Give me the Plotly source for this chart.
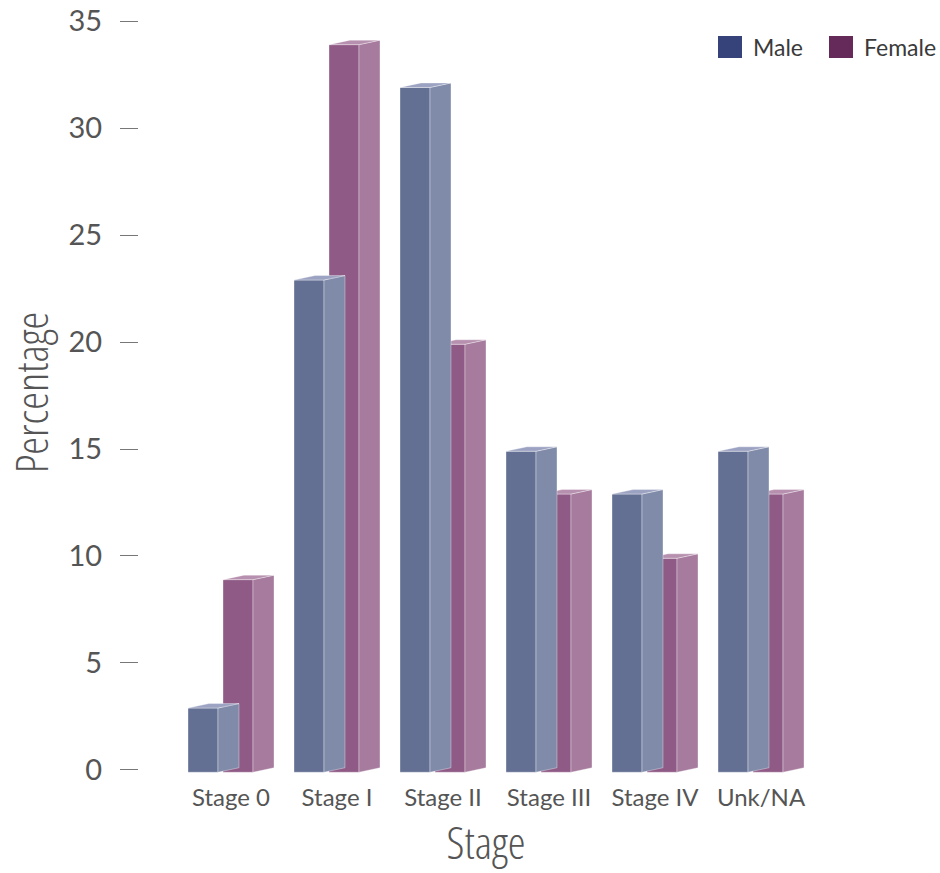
import plotly.graph_objects as go

categories = ["Stage 0", "Stage I", "Stage II", "Stage III", "Stage IV", "Unk/NA"]
male = [3, 23, 32, 15, 13, 15]
female = [9, 34, 20, 13, 10, 13]
y_ticks = [0, 5, 10, 15, 20, 25, 30, 35]

# 3D styling (in axis units)
FRONT_W = 0.283
DX = 0.198
DY = 0.21
series = [
    dict(name="Female", vals=female, off=-0.0755,
         front="#8F5A86", side="#A67B9D", top="#B690AE", legend="#652A5A"),
    dict(name="Male", vals=male, off=-0.4057,
         front="#637093", side="#808BAA", top="#9CA2C2", legend="#36427A"),
]

fig = go.Figure()
edge = dict(color="rgba(255,255,255,0.35)", width=1)

for s in series:
    fx, fy, sx, sy, tx, ty = [], [], [], [], [], []
    for i, v in enumerate(s["vals"]):
        x0 = i + s["off"]
        x1 = x0 + FRONT_W
        b0, b1 = -DY / 2, DY / 2
        t0, t1 = v - DY / 2, v + DY / 2
        fx += [x0, x1, x1, x0, x0, None]
        fy += [b0, b0, t0, t0, b0, None]
        sx += [x1, x1 + DX, x1 + DX, x1, x1, None]
        sy += [b0, b1, t1, t0, b0, None]
        tx += [x0, x1, x1 + DX, x0 + DX, x0, None]
        ty += [t0, t0, t1, t1, t0, None]
    for xs, ys, col in [(fx, fy, s["front"]), (sx, sy, s["side"]), (tx, ty, s["top"])]:
        fig.add_trace(go.Scatter(x=xs, y=ys, mode="lines", fill="toself",
                                 fillcolor=col, line=edge, showlegend=False,
                                 hoverinfo="skip"))

# Manual legend (plot domain: x 139..833 px, y 10..775 px)
def px_x(p):
    return (p - 139) / 694.0

def px_y(p):
    return (775 - p) / 765.0

legend_items = [("Male", "#36427A", 718), ("Female", "#652A5A", 829)]
for name, col, left in legend_items:
    fig.add_shape(type="rect", xref="paper", yref="paper",
                  x0=px_x(left), x1=px_x(left + 24), y0=px_y(58), y1=px_y(36),
                  fillcolor=col, line=dict(width=0))
    fig.add_annotation(text=name, xref="paper", yref="paper",
                       x=px_x(left + 33), y=px_y(47), xanchor="left", yanchor="middle",
                       showarrow=False, font=dict(family="Lato", size=23, color="#3a3a3a"))

title_font = dict(family="Open Sans", size=45, color="#555555", weight=300)

fig.update_layout(
    width=940, height=873,
    margin=dict(l=139, r=107, t=10, b=98, autoexpand=False),
    plot_bgcolor="white", paper_bgcolor="white",
    showlegend=False,
    xaxis=dict(range=[-0.8679, 5.679], tickmode="array",
               tickvals=list(range(len(categories))), ticktext=categories,
               showgrid=False, zeroline=False, showline=False, ticks="",
               automargin=False,
               tickfont=dict(family="Lato", size=24, color="#555555"),
               ticklabelstandoff=6,
               title=dict(text="Stage", font=title_font, standoff=12)),
    yaxis=dict(range=[-0.234, 35.514], tickmode="array", tickvals=y_ticks,
               showgrid=False, zeroline=False, showline=False,
               ticks="outside", ticklen=18, tickcolor="#777777", tickwidth=1,
               ticklabelstandoff=12, automargin=False,
               tickfont=dict(family="Lato", size=29, color="#555555"),
               title=dict(text="Percentage", font=title_font, standoff=19)),
)

post = """
document.body.style.margin='0px';
document.querySelectorAll('.xtitle, .ytitle').forEach(function(e){e.style.fontStretch='75%';});
"""
fig.write_html("out.html", post_script=post, config={"displayModeBar": False})
